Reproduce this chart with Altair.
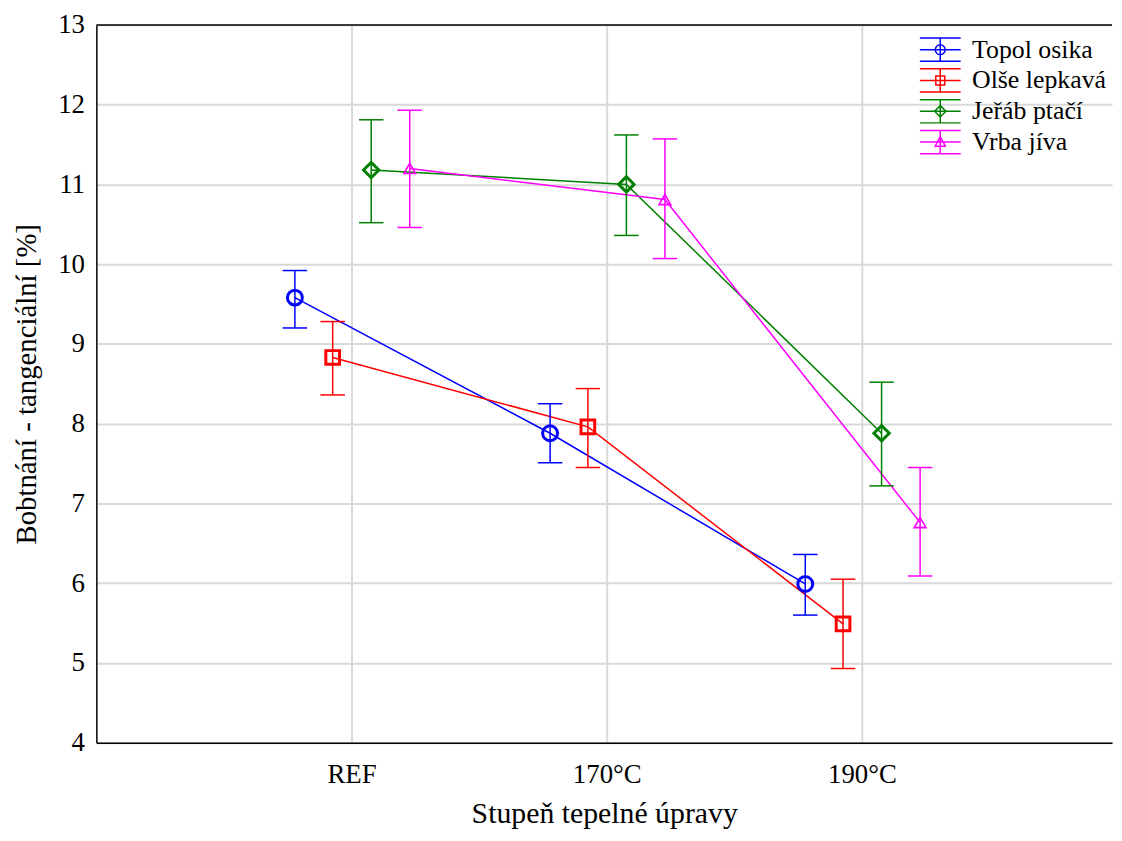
import json
import altair as alt
import pandas as pd

# ---- data ----
categories = ["REF", "170°C", "190°C"]
series = ["Topol osika", "Olše lepkavá", "Jeřáb ptačí", "Vrba jíva"]

topol_mean = [9.58, 7.88, 5.99]
topol_lo = [9.20, 7.51, 5.60]
topol_hi = [9.92, 8.25, 6.36]

olse_mean = [8.83, 7.96, 5.49]
olse_lo = [8.36, 7.45, 4.93]
olse_hi = [9.28, 8.44, 6.05]

jerab_mean = [11.18, 11.00, 7.88]
jerab_lo = [10.52, 10.36, 7.22]
jerab_hi = [11.81, 11.62, 8.52]

vrba_mean = [11.20, 10.81, 6.76]
vrba_lo = [10.46, 10.07, 6.09]
vrba_hi = [11.93, 11.57, 7.45]

y_ticks = [4, 5, 6, 7, 8, 9, 10, 11, 12, 13]

# ---- styles ----
colors = ["#0000FF", "#FF0000", "#008000", "#FF00FF"]
dodge = [-0.222, -0.074, 0.077, 0.228]
marker_style = [
    dict(shape="circle", size=225, strokeWidth=3),
    dict(shape="square", size=190, strokeWidth=3),
    dict(shape="diamond", size=240, strokeWidth=3),
    dict(shape="triangle-up", size=140, strokeWidth=1.6),
]
bars = "M-1.37,-0.78H1.37M-1.37,0H1.37M-1.37,0.78H1.37M0,-0.78V0.78"
legend_paths = [
    bars + "M0.33,0A0.33,0.33 0 1 1 -0.33,0A0.33,0.33 0 1 1 0.33,0Z",
    bars + "M-0.3,-0.3H0.3V0.3H-0.3Z",
    bars + "M0,-0.38L0.38,0L0,0.38L-0.38,0Z",
    bars + "M0,-0.36L0.34,0.28L-0.34,0.28Z",
]
FONT = "Liberation Serif"

means = [topol_mean, olse_mean, jerab_mean, vrba_mean]
los = [topol_lo, olse_lo, jerab_lo, vrba_lo]
his = [topol_hi, olse_hi, jerab_hi, vrba_hi]

rows = []
for s_i, name in enumerate(series):
    for c_i, cat in enumerate(categories):
        rows.append(dict(series=name, category=cat,
                         x=c_i + 1 + dodge[s_i],
                         value=means[s_i][c_i], lo=los[s_i][c_i], hi=his[s_i][c_i]))
df = pd.DataFrame(rows)

label_expr = "[''," + ",".join(json.dumps(c) for c in categories) + "][datum.value] || ''"

x_enc = alt.X("x:Q",
              scale=alt.Scale(domain=[0, 3.98], nice=False, zero=False),
              axis=alt.Axis(values=[1, 2, 3], labelExpr=label_expr,
                            title="Stupeň tepelné úpravy", grid=True, ticks=False,
                            labelPadding=19, titlePadding=11))
y_enc = alt.Y("value:Q",
              scale=alt.Scale(domain=[4, 13], nice=False, zero=False),
              axis=alt.Axis(values=y_ticks, format="d", title="Bobtnání - tangenciální [%]",
                            grid=True, ticks=False, labelPadding=12, titlePadding=16,
                            titleFontSize=29))
color_nolegend = alt.Color("series:N", sort=series, scale=alt.Scale(range=colors), legend=None)

base = alt.Chart(df)

lines = base.mark_line(strokeWidth=1.5).encode(
    x=x_enc, y=y_enc, color=color_nolegend, detail="series:N", order="x:Q")

err = base.mark_rule(strokeWidth=1.5).encode(
    x=x_enc, y=alt.Y("lo:Q"), y2="hi:Q", color=color_nolegend)

cap_lo = base.transform_calculate(xl="datum.x - 0.048", xr="datum.x + 0.048").mark_rule(
    strokeWidth=1.5).encode(x=alt.X("xl:Q"), x2="xr:Q", y=alt.Y("lo:Q"), color=color_nolegend)
cap_hi = base.transform_calculate(xl="datum.x - 0.048", xr="datum.x + 0.048").mark_rule(
    strokeWidth=1.5).encode(x=alt.X("xl:Q"), x2="xr:Q", y=alt.Y("hi:Q"), color=color_nolegend)

marker_layers = []
for s_i, name in enumerate(series):
    st = marker_style[s_i]
    marker_layers.append(
        base.transform_filter(alt.datum.series == name).mark_point(
            filled=False, shape=st["shape"], size=st["size"],
            strokeWidth=st["strokeWidth"], opacity=1).encode(
            x=x_enc, y=y_enc, color=color_nolegend))

legend_cfg = dict(title=None, orient="none", legendX=834, legendY=9, padding=0,
                  labelFont=FONT, labelFontSize=26, labelColor="black",
                  labelOffset=16, labelLimit=400, symbolSize=900,
                  symbolStrokeWidth=1.5, symbolOpacity=1, rowPadding=0)
legend_layer = base.transform_filter(alt.datum.category == categories[0]).mark_point(
    opacity=0, filled=False).encode(
    x=x_enc, y=y_enc,
    stroke=alt.Stroke("series:N", scale=alt.Scale(domain=series, range=colors),
                      legend=alt.Legend(**legend_cfg)),
    shape=alt.Shape("series:N", scale=alt.Scale(domain=series, range=legend_paths),
                    legend=alt.Legend(**legend_cfg)))

top_border = alt.Chart(pd.DataFrame({"value": [y_ticks[-1]]})).mark_rule(
    color="black", strokeWidth=1.5).encode(y=y_enc)

chart = alt.layer(lines, err, cap_lo, cap_hi, *marker_layers, legend_layer, top_border).properties(
    width=1023, height=723,
    autosize=alt.AutoSizeParams(type="none"),
    padding={"left": 89, "top": 14, "right": 2, "bottom": 94},
).configure_view(stroke=None).configure_axis(
    labelFont=FONT, titleFont=FONT, labelFontSize=27, titleFontSize=30,
    labelColor="black", titleColor="black", titleFontWeight="normal",
    domainColor="black", domainWidth=1.5, gridColor="#d9d9d9", gridWidth=2,
).configure_legend(
    labelFont=FONT, labelFontSize=26, labelColor="black",
)

chart.save("out.html", embed_options={"renderer": "svg", "actions": False})
